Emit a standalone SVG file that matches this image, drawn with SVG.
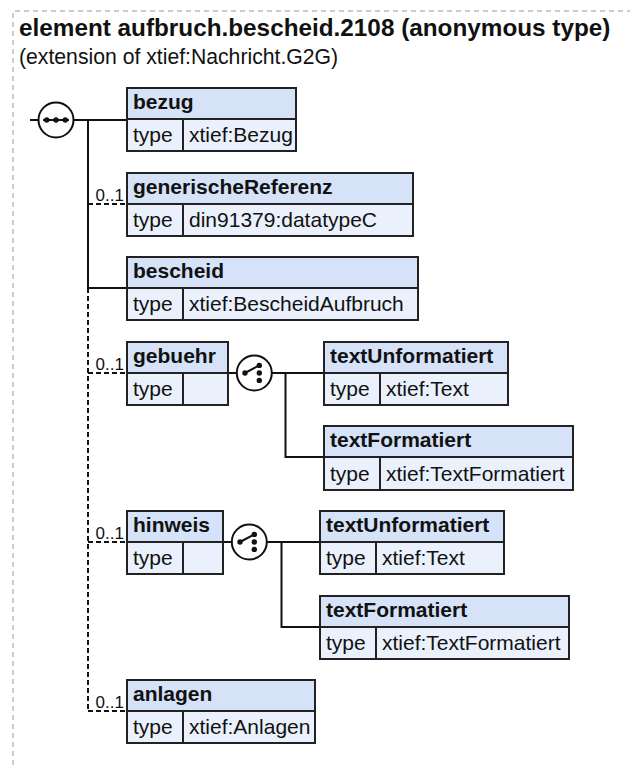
<svg xmlns="http://www.w3.org/2000/svg" xmlns:xlink="http://www.w3.org/1999/xlink" width="630" height="765" viewBox="0 0 630 765">
  <style>
    .frame { fill: none; stroke: #9a9a9a; stroke-width: 1; stroke-dasharray: 5,4; }
    .title { font-family: "Liberation Sans", Arial, sans-serif; font-size: 24.3px; font-weight: bold; fill: #111; }
    .sub { font-family: "Liberation Sans", Arial, sans-serif; font-size: 21.2px; fill: #111; }
    .hdr { fill: #d5e2f7; stroke: #222; stroke-width: 2; }
    .body { fill: #eaf1fc; stroke: #222; stroke-width: 2; }
    .div { stroke: #222; stroke-width: 2; }
    .name { font-family: "Liberation Sans", Arial, sans-serif; font-size: 21px; font-weight: bold; fill: #111; }
    .txt { font-family: "Liberation Sans", Arial, sans-serif; font-size: 21px; fill: #111; }
    .card { font-family: "Liberation Sans", Arial, sans-serif; font-size: 17px; fill: #111; }
    .line { fill: none; stroke: #111; stroke-width: 2; }
    .dash { fill: none; stroke: #111; stroke-width: 2; stroke-dasharray: 5,3; }
    .icon { fill: #fff; stroke: #111; stroke-width: 2; }
    .dot { fill: #111; }
  </style>
  <defs>
    <g id="seqIcon">
      <circle class="icon" cx="0" cy="0" r="17.5"/>
      <line x1="-13" y1="0" x2="13" y2="0" stroke="#111" stroke-width="2"/>
      <circle class="dot" cx="-9.3" cy="0" r="2.7"/>
      <circle class="dot" cx="0" cy="0" r="2.7"/>
      <circle class="dot" cx="9.3" cy="0" r="2.7"/>
    </g>
    <g id="choiceIcon">
      <circle class="icon" cx="0" cy="0" r="17.5"/>
      <line x1="-9.3" y1="0" x2="5" y2="-7.6" stroke="#111" stroke-width="2"/>
      <circle class="dot" cx="-9.3" cy="0" r="2.7"/>
      <circle class="dot" cx="5" cy="-7.6" r="2.7"/>
      <circle class="dot" cx="5" cy="0" r="2.7"/>
      <circle class="dot" cx="5" cy="7.4" r="2.7"/>
    </g>
  </defs>

  <rect width="630" height="765" fill="#fff"/>
  <path class="frame" d="M13,765 V11 H630"/>

  <text class="title" x="19" y="36">element aufbruch.bescheid.2108 (anonymous type)</text>
  <text class="sub" x="19" y="64">(extension of xtief:Nachricht.G2G)</text>

  <g id="connectors">
    <path class="line" d="M30,120 H38.5"/>
    <path class="line" d="M73.5,120 H127"/>
    <path class="line" d="M88,120 V288 H127"/>
    <path class="dash" d="M88,204 H127"/>
    <path class="dash" d="M88,288 V711"/>
    <path class="dash" d="M88,373 H127"/>
    <path class="dash" d="M88,542 H127"/>
    <path class="dash" d="M88,711 H127"/>
    <path class="line" d="M228,373 H236.5"/>
    <path class="line" d="M272,373 H324"/>
    <path class="line" d="M285.5,373 V457 H324"/>
    <path class="line" d="M223,542 H231.5"/>
    <path class="line" d="M267,542 H320"/>
    <path class="line" d="M281.5,542 V627 H320"/>
  </g>

  <g id="sequence">
    <use xlink:href="#seqIcon" x="56" y="120"/>
  </g>

  <g id="bezug">
    <rect class="hdr" x="127" y="88" width="169" height="31"/>
    <rect class="body" x="127" y="119" width="169" height="32"/>
    <line class="div" x1="183" y1="119" x2="183" y2="151"/>
    <text class="name" x="133" y="108.5">bezug</text>
    <text class="txt" x="133" y="142">type</text>
    <text class="txt" x="189" y="142">xtief:Bezug</text>
  </g>

  <g id="generischeReferenz">
    <text class="card" x="95.5" y="201">0..1</text>
    <rect class="hdr" x="127" y="173" width="286" height="31"/>
    <rect class="body" x="127" y="204" width="286" height="32"/>
    <line class="div" x1="183" y1="204" x2="183" y2="236"/>
    <text class="name" x="133" y="193.5">generischeReferenz</text>
    <text class="txt" x="133" y="227">type</text>
    <text class="txt" x="189" y="227">din91379:datatypeC</text>
  </g>

  <g id="bescheid">
    <rect class="hdr" x="127" y="257" width="291" height="31"/>
    <rect class="body" x="127" y="288" width="291" height="32"/>
    <line class="div" x1="183" y1="288" x2="183" y2="320"/>
    <text class="name" x="133" y="277.5">bescheid</text>
    <text class="txt" x="133" y="311">type</text>
    <text class="txt" x="189" y="311">xtief:BescheidAufbruch</text>
  </g>

  <g id="gebuehr">
    <text class="card" x="95.5" y="370">0..1</text>
    <rect class="hdr" x="127" y="342" width="101" height="31"/>
    <rect class="body" x="127" y="373" width="101" height="32"/>
    <line class="div" x1="183" y1="373" x2="183" y2="405"/>
    <text class="name" x="133" y="362.5">gebuehr</text>
    <text class="txt" x="133" y="396">type</text>
  </g>

  <g id="gebuehr-choice">
    <use xlink:href="#choiceIcon" x="254.3" y="373"/>
  </g>

  <g id="gebuehr-textUnformatiert">
    <rect class="hdr" x="324" y="342" width="184" height="31"/>
    <rect class="body" x="324" y="373" width="184" height="32"/>
    <line class="div" x1="380" y1="373" x2="380" y2="405"/>
    <text class="name" x="330" y="362.5">textUnformatiert</text>
    <text class="txt" x="330" y="396">type</text>
    <text class="txt" x="386" y="396">xtief:Text</text>
  </g>

  <g id="gebuehr-textFormatiert">
    <rect class="hdr" x="324" y="426" width="249" height="31"/>
    <rect class="body" x="324" y="457" width="249" height="33"/>
    <line class="div" x1="380" y1="457" x2="380" y2="490"/>
    <text class="name" x="330" y="446.5">textFormatiert</text>
    <text class="txt" x="330" y="480.5">type</text>
    <text class="txt" x="386" y="480.5">xtief:TextFormatiert</text>
  </g>

  <g id="hinweis">
    <text class="card" x="95.5" y="539">0..1</text>
    <rect class="hdr" x="127" y="511" width="96" height="31"/>
    <rect class="body" x="127" y="542" width="96" height="32"/>
    <line class="div" x1="183" y1="542" x2="183" y2="574"/>
    <text class="name" x="133" y="531.5">hinweis</text>
    <text class="txt" x="133" y="565">type</text>
  </g>

  <g id="hinweis-choice">
    <use xlink:href="#choiceIcon" x="249.3" y="542"/>
  </g>

  <g id="hinweis-textUnformatiert">
    <rect class="hdr" x="320" y="511" width="184" height="31"/>
    <rect class="body" x="320" y="542" width="184" height="32"/>
    <line class="div" x1="376" y1="542" x2="376" y2="574"/>
    <text class="name" x="326" y="531.5">textUnformatiert</text>
    <text class="txt" x="326" y="565">type</text>
    <text class="txt" x="382" y="565">xtief:Text</text>
  </g>

  <g id="hinweis-textFormatiert">
    <rect class="hdr" x="320" y="596" width="249" height="31"/>
    <rect class="body" x="320" y="627" width="249" height="32"/>
    <line class="div" x1="376" y1="627" x2="376" y2="659"/>
    <text class="name" x="326" y="616.5">textFormatiert</text>
    <text class="txt" x="326" y="650">type</text>
    <text class="txt" x="382" y="650">xtief:TextFormatiert</text>
  </g>

  <g id="anlagen">
    <text class="card" x="95.5" y="708">0..1</text>
    <rect class="hdr" x="127" y="680" width="188" height="31"/>
    <rect class="body" x="127" y="711" width="188" height="32"/>
    <line class="div" x1="183" y1="711" x2="183" y2="743"/>
    <text class="name" x="133" y="700.5">anlagen</text>
    <text class="txt" x="133" y="734">type</text>
    <text class="txt" x="189" y="734">xtief:Anlagen</text>
  </g>
</svg>
